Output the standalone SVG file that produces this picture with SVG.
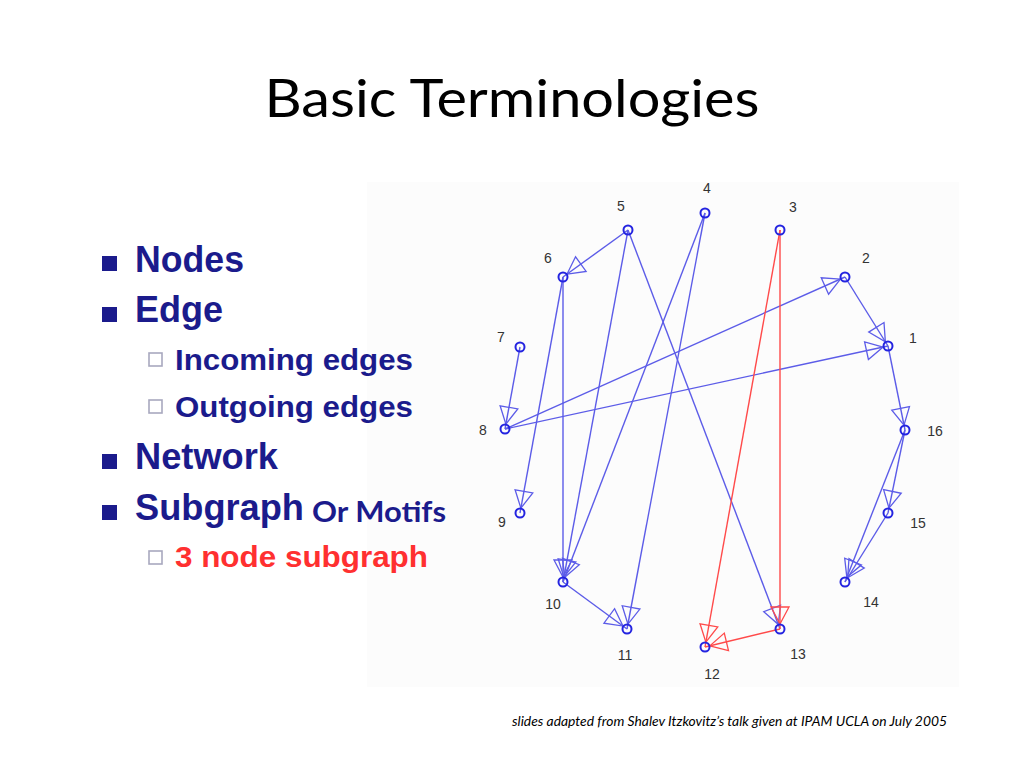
<svg xmlns="http://www.w3.org/2000/svg" width="1024" height="768" viewBox="0 0 1024 768">
<style>
.title{font-family:Lato,"Liberation Sans",sans-serif;font-size:52px;fill:#000}
.b1{font-family:"Liberation Sans",Arial,sans-serif;font-weight:bold;font-size:36px;fill:#1b1b8c}
.b2{font-family:"Liberation Sans",Arial,sans-serif;font-weight:bold;font-size:29px;fill:#1b1b8c}
.red{fill:#ff3030}
.motif{font-family:Lato,"Liberation Sans",sans-serif;font-weight:bold;font-size:28px;fill:#1b1b8c}
.foot{font-family:Lato,"Liberation Sans",sans-serif;font-style:italic;font-size:13px;fill:#000}
.lbl{font-family:"Liberation Sans",Arial,sans-serif;font-size:14px;fill:#333;text-anchor:middle}
.sq{fill:#1b1b8c}
.hsq{fill:#fff;stroke:#a8a8bf;stroke-width:1.6}
.e{stroke:#5c5ce8;stroke-width:1.4;fill:none;marker-end:url(#ab)}
.er{stroke:#ff4a4a;stroke-width:1.4;fill:none;marker-end:url(#ar)}
.n{fill:none;stroke:#2424e0;stroke-width:2}
</style>
<defs>
<marker id="ab" markerUnits="userSpaceOnUse" orient="auto" markerWidth="40" markerHeight="40" refX="0" refY="0" viewBox="-30 -15 40 30" overflow="visible">
<path d="M-5,0 L-22,-9 L-22,9 Z" fill="none" stroke="#5c5ce8" stroke-width="1.3"/>
</marker>
<marker id="ar" markerUnits="userSpaceOnUse" orient="auto" markerWidth="40" markerHeight="40" refX="0" refY="0" viewBox="-30 -15 40 30" overflow="visible">
<path d="M-5,0 L-22,-9 L-22,9 Z" fill="none" stroke="#ff4a4a" stroke-width="1.3"/>
</marker>
</defs>
<rect width="1024" height="768" fill="#fff"/>
<rect x="367" y="182" width="592" height="505" fill="#fcfcfc"/>
<text class="title" x="512" y="117" text-anchor="middle" textLength="495" lengthAdjust="spacingAndGlyphs">Basic Terminologies</text>

<g id="bullets">
<rect class="sq" x="102" y="256" width="15" height="15"/>
<text class="b1" x="135" y="272" textLength="109" lengthAdjust="spacingAndGlyphs">Nodes</text>
<rect class="sq" x="102" y="307" width="15" height="15"/>
<text class="b1" x="135" y="322" textLength="88" lengthAdjust="spacingAndGlyphs">Edge</text>
<rect class="hsq" x="149" y="353" width="13" height="13"/>
<text class="b2" x="175" y="370" textLength="238" lengthAdjust="spacingAndGlyphs">Incoming edges</text>
<rect class="hsq" x="149" y="400" width="13" height="13"/>
<text class="b2" x="175" y="417" textLength="238" lengthAdjust="spacingAndGlyphs">Outgoing edges</text>
<rect class="sq" x="102" y="454" width="15" height="15"/>
<text class="b1" x="135" y="469" textLength="143" lengthAdjust="spacingAndGlyphs">Network</text>
<rect class="sq" x="102" y="505" width="15" height="15"/>
<text class="b1" x="135" y="520" textLength="169" lengthAdjust="spacingAndGlyphs">Subgraph</text>
<text class="motif" x="312" y="522" textLength="134" lengthAdjust="spacingAndGlyphs">Or Motifs</text>
<rect class="hsq" x="149" y="551" width="13" height="13"/>
<text class="b2 red" x="175" y="567" textLength="253" lengthAdjust="spacingAndGlyphs">3 node subgraph</text>
</g>

<g id="connectors">
<line class="e" x1="628" y1="230" x2="563" y2="277"/>
<line class="e" x1="628" y1="230" x2="563" y2="582"/>
<line class="e" x1="628" y1="230" x2="780" y2="629"/>
<line class="e" x1="563" y1="277" x2="520" y2="513"/>
<line class="e" x1="563" y1="277" x2="563" y2="582"/>
<line class="e" x1="705" y1="213" x2="563" y2="582"/>
<line class="e" x1="705" y1="213" x2="627" y2="629"/>
<line class="e" x1="520" y1="347" x2="505" y2="429"/>
<line class="e" x1="505" y1="429" x2="845" y2="277"/>
<line class="e" x1="505" y1="429" x2="888" y2="346"/>
<line class="e" x1="845" y1="277" x2="888" y2="346"/>
<line class="e" x1="888" y1="346" x2="905" y2="430"/>
<line class="e" x1="905" y1="430" x2="888" y2="513"/>
<line class="e" x1="905" y1="430" x2="845" y2="582"/>
<line class="e" x1="888" y1="513" x2="845" y2="582"/>
<line class="e" x1="563" y1="582" x2="627" y2="629"/>
<line class="er" x1="780" y1="230" x2="780" y2="629"/>
<line class="er" x1="780" y1="230" x2="705" y2="647"/>
<line class="er" x1="780" y1="629" x2="705" y2="647"/>
</g>

<g id="n1"><circle class="n" cx="888" cy="346" r="4.5"/><text class="lbl" x="913" y="343">1</text></g>
<g id="n2"><circle class="n" cx="845" cy="277" r="4.5"/><text class="lbl" x="866" y="263">2</text></g>
<g id="n3"><circle class="n" cx="780" cy="230" r="4.5"/><text class="lbl" x="793" y="212">3</text></g>
<g id="n4"><circle class="n" cx="705" cy="213" r="4.5"/><text class="lbl" x="707" y="193">4</text></g>
<g id="n5"><circle class="n" cx="628" cy="230" r="4.5"/><text class="lbl" x="621" y="211">5</text></g>
<g id="n6"><circle class="n" cx="563" cy="277" r="4.5"/><text class="lbl" x="548" y="263">6</text></g>
<g id="n7"><circle class="n" cx="520" cy="347" r="4.5"/><text class="lbl" x="501" y="342">7</text></g>
<g id="n8"><circle class="n" cx="505" cy="429" r="4.5"/><text class="lbl" x="483" y="435">8</text></g>
<g id="n9"><circle class="n" cx="520" cy="513" r="4.5"/><text class="lbl" x="502" y="527">9</text></g>
<g id="n10"><circle class="n" cx="563" cy="582" r="4.5"/><text class="lbl" x="553" y="609">10</text></g>
<g id="n11"><circle class="n" cx="627" cy="629" r="4.5"/><text class="lbl" x="625" y="660">11</text></g>
<g id="n12"><circle class="n" cx="705" cy="647" r="4.5"/><text class="lbl" x="712" y="679">12</text></g>
<g id="n13"><circle class="n" cx="780" cy="629" r="4.5"/><text class="lbl" x="798" y="659">13</text></g>
<g id="n14"><circle class="n" cx="845" cy="582" r="4.5"/><text class="lbl" x="871" y="607">14</text></g>
<g id="n15"><circle class="n" cx="888" cy="513" r="4.5"/><text class="lbl" x="918" y="528">15</text></g>
<g id="n16"><circle class="n" cx="905" cy="430" r="4.5"/><text class="lbl" x="935" y="436">16</text></g>

<text class="foot" x="512" y="726" textLength="435" lengthAdjust="spacingAndGlyphs">slides adapted from  Shalev Itzkovitz’s talk given at IPAM UCLA on July 2005</text>
</svg>
